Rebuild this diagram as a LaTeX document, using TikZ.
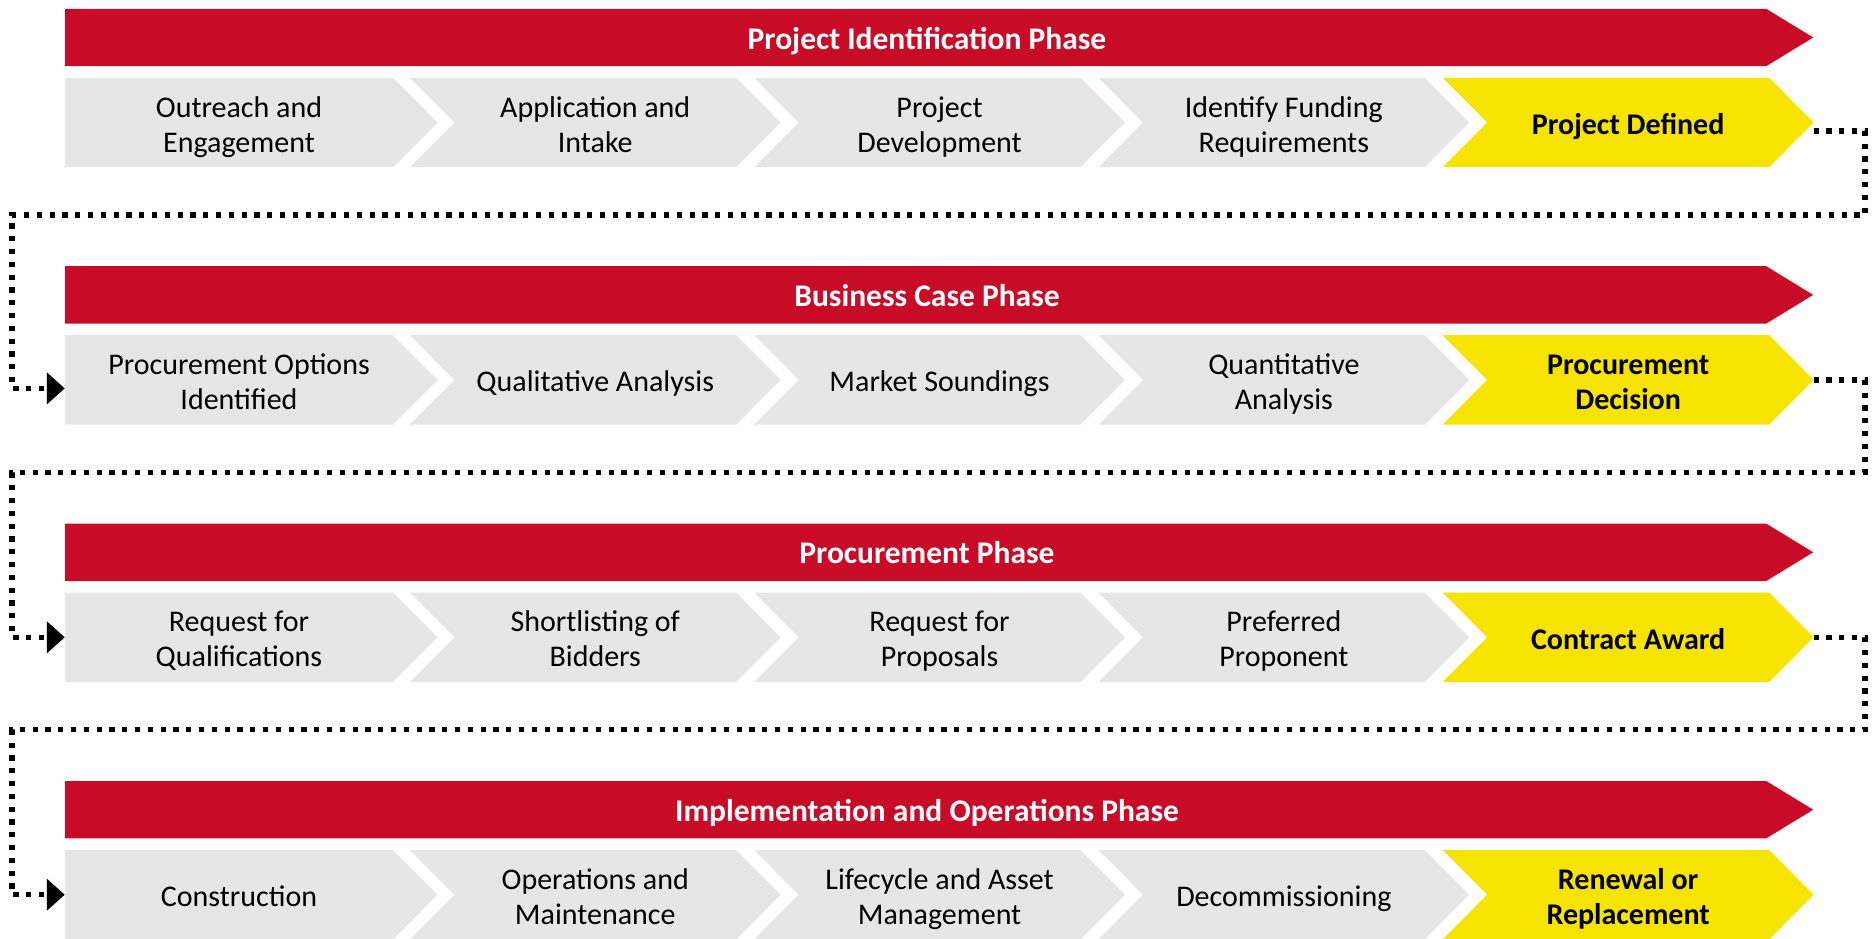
\documentclass[tikz,border=0pt]{standalone}
\usepackage{fontspec}
\setmainfont{Carlito}
\usetikzlibrary{arrows.meta,calc,backgrounds}
\definecolor{phasered}{RGB}{200,12,40}
\definecolor{stepgray}{RGB}{231,230,230}
\definecolor{stepyellow}{RGB}{247,227,0}
\newcommand{\mytopstrut}{\rule{0pt}{32pt}}
\newcommand{\mybotstrut}{\rule[-8pt]{0pt}{8pt}}
\newcommand{\mytitlestrut}{\rule[-9pt]{0pt}{41pt}}
\tikzset{
  txt/.style={font=\fontsize{30pt}{35pt}\selectfont, align=center, inner sep=0pt, text=black},
  phasebar/.style={txt, font=\fontsize{31.5pt}{36pt}\selectfont\bfseries, text=white, minimum width=1724pt, minimum height=57pt},
  firstbox/.style={txt, minimum width=348pt, minimum height=89pt},
  stepbox/.style={txt, minimum width=370.5pt, minimum height=89pt},
  keybox/.style={stepbox, font=\fontsize{30pt}{35pt}\selectfont\bfseries},
  conn/.style={line width=5.2pt, dash pattern=on 5.2pt off 7.6pt, line cap=butt, black},
  connarrow/.style={conn, -{Triangle[length=18pt,width=31pt]}}
}
\begin{document}
\begin{tikzpicture}[x=1pt,y=-1pt]
\useasboundingbox (0,0) rectangle (1873,938);

% ---------- rows ----------
\foreach \r/\title/\ta/\tb/\tc/\td/\te in {
  0/{Project Identification Phase}/{Outreach and\\Engagement}/{Application and\\Intake}/{Project\\Development}/{Identify Funding\\Requirements}/{Project Defined},
  1/{Business Case Phase}/{Procurement Options\\Identified}/{Qualitative Analysis}/{Market Soundings}/{Quantitative\\Analysis}/{Procurement\\Decision},
  2/{Procurement Phase}/{Request for\\Qualifications}/{Shortlisting of\\Bidders}/{Request for\\Proposals}/{Preferred\\Proponent}/{Contract Award},
  3/{Implementation and Operations Phase}/{Construction}/{Operations and\\Maintenance}/{Lifecycle and Asset\\Management}/{Decommissioning}/{Renewal or\\Replacement}}{
  \pgfmathsetmacro{\off}{257.4*\r}
  \node[phasebar] (p\r) at (927, 37.5+\off) {\mytitlestrut\title};
  \node[firstbox] (b\r1) at (239, 122.5+\off) {\mytopstrut\ta\mybotstrut};
  \node[stepbox]  (b\r2) at (410+185.25, 122.5+\off) {\mytopstrut\tb\mybotstrut};
  \node[stepbox]  (b\r3) at (754.3+185.25, 122.5+\off) {\mytopstrut\tc\mybotstrut};
  \node[stepbox]  (b\r4) at (1098.6+185.25, 122.5+\off) {\mytopstrut\td\mybotstrut};
  \node[keybox]   (b\r5) at (1442.9+185.25, 122.5+\off) {\mytopstrut\te\mybotstrut};
  \begin{scope}[on background layer]
    \fill[phasered] (p\r.north west) -- ($(p\r.north east)-(23,0)$) -- ($(p\r.east)+(24,0)$)
      -- ($(p\r.south east)-(23,0)$) -- (p\r.south west) -- cycle;
    \fill[stepgray] (b\r1.north west) -- ($(b\r1.north east)-(20,0)$) -- ($(b\r1.east)+(24.5,0)$)
      -- ($(b\r1.south east)-(20,0)$) -- (b\r1.south west) -- cycle;
    \foreach \k/\col in {2/stepgray,3/stepgray,4/stepgray,5/stepyellow}{
      \fill[\col] (b\r\k.north west) -- ($(b\r\k.north east)-(44.5,0)$) -- (b\r\k.east)
        -- ($(b\r\k.south east)-(44.5,0)$) -- (b\r\k.south west) -- ($(b\r\k.west)+(44.5,0)$) -- cycle;
    }
  \end{scope}
}

% ---------- connector corners ----------
\foreach \r in {0,1,2}{
  \pgfmathsetmacro{\hy}{215+257.4*\r}
  \coordinate (R\r) at (1865,\hy);
  \coordinate (L\r) at (12,\hy);
}

\draw[connarrow] ([yshift=-8.5pt]b05.east) -| (R0) -- (L0) |- ([yshift=-8.5pt]b11.west);
\draw[connarrow] (b15.east) -| (R1) -- (L1) |- (b21.west);
\draw[connarrow] (b25.east) -| (R2) -- (L2) |- (b31.west);
\end{tikzpicture}
\end{document}
